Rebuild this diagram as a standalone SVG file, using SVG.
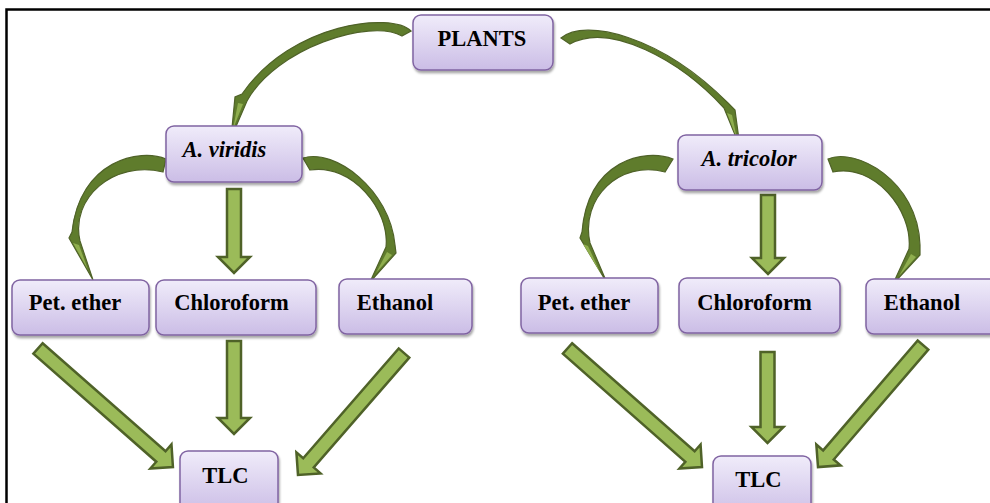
<svg xmlns="http://www.w3.org/2000/svg" width="990" height="503" viewBox="0 0 990 503">
<defs>
<linearGradient id="boxg" x1="0" y1="0" x2="0" y2="1">
<stop offset="0" stop-color="#f0ecfa"/>
<stop offset="1" stop-color="#cbbde6"/>
</linearGradient>
<filter id="sh" x="-10%" y="-10%" width="120%" height="130%">
<feDropShadow dx="1" dy="2.5" stdDeviation="1.2" flood-color="#000" flood-opacity="0.35"/>
</filter>
</defs>
<style>
.box{fill:url(#boxg);stroke:#8064a2;stroke-width:1.5;filter:url(#sh)}
.t{font-family:"Liberation Serif","Times New Roman",serif;font-weight:bold;font-size:22.5px;fill:#000;text-anchor:middle}
.it{font-style:italic}
.blk{fill:#9bbb59;stroke:#4f6228;stroke-width:2.5;stroke-linejoin:miter}
.crv{fill:#5f7c2c;stroke:#4f6228;stroke-width:1.2;stroke-linejoin:miter}
.hl{fill:#8fae4e;stroke:none}
.frame{stroke:#000;stroke-width:2.5;fill:none}
</style>
<rect width="990" height="503" fill="#fff"/>
<path class="frame" d="M6.5,503 V9.5 H990"/>

<g id="connectors">
<!-- curved arrows -->
<path class="crv" d="M402,36 L411,31 C392,12 292,22 242,94 L235,97 L231,138 L247,101 C276,48 370,18 402,36 Z"/>
<polygon class="hl" points="238,103 243,104 233,129"/>
<path class="crv" d="M166,159 C140,148 80,160 72,232 L69,238 L93,280 L80,241 C70,198 114,160 163,172 Z"/>
<polygon class="hl" points="73,243 79,245 88,270"/>
<path class="crv" d="M303,158 C335,148 390,190 395,245 L396,253 L370,282 L386,247 C390,210 352,163 310,170 Z"/>
<polygon class="hl" points="392,255 387,252 376,273"/>
<path class="crv" d="M561,38 C585,18 660,35 728,103 L735,110 L740,147 L724,108 C680,60 610,22 570,44 Z"/>
<polygon class="hl" points="732,115 727,113 737,139"/>
<path class="crv" d="M673,159 C645,148 588,160 582,232 L580,238 L607,283 L590,243 C580,198 620,160 665,172 Z"/>
<polygon class="hl" points="583,244 588,246 601,274"/>
<path class="crv" d="M828,159 C855,147 918,180 920,245 L920,255 L893,284 L909,249 C913,210 874,163 833,172 Z"/>
<polygon class="hl" points="916,257 911,254 899,276"/>
<!-- block arrows -->
<polygon class="blk" transform="translate(234,189) rotate(90)" points="0,-7 68,-7 68,-16 84,0 68,16 68,7 0,7"/>
<polygon class="blk" transform="translate(234,341) rotate(90)" points="0,-7 77,-7 77,-16 93,0 77,16 77,7 0,7"/>
<polygon class="blk" transform="translate(768,195) rotate(90)" points="0,-7 63,-7 63,-16 79,0 63,16 63,7 0,7"/>
<polygon class="blk" transform="translate(767.5,352) rotate(90)" points="0,-7 75,-7 75,-16 91,0 75,16 75,7 0,7"/>
<polygon class="blk" transform="translate(38,348.5) rotate(41.3)" points="0,-7 163.6,-7 163.6,-16 179.6,0 163.6,16 163.6,7 0,7"/>
<polygon class="blk" transform="translate(404,353) rotate(131)" points="0,-7 145.6,-7 145.6,-16 161.6,0 145.6,16 145.6,7 0,7"/>
<polygon class="blk" transform="translate(567.5,348.5) rotate(41.4)" points="0,-7 163.3,-7 163.3,-16 179.3,0 163.3,16 163.3,7 0,7"/>
<polygon class="blk" transform="translate(923,345) rotate(130.7)" points="0,-7 145,-7 145,-16 161,0 145,16 145,7 0,7"/>
</g>

<g id="plants"><rect class="box" x="413" y="15" width="140" height="55" rx="8"/><text class="t" x="482" y="46">PLANTS</text></g>
<g id="viridis"><rect class="box" x="166" y="126" width="136" height="56" rx="8"/><text class="t it" x="224.5" y="157">A. viridis</text></g>
<g id="petether1"><rect class="box" x="12" y="280" width="137" height="55" rx="8"/><text class="t" x="75" y="310">Pet. ether</text></g>
<g id="chloroform1"><rect class="box" x="156" y="280" width="160" height="55" rx="8"/><text class="t" x="231.5" y="310">Chloroform</text></g>
<g id="ethanol1"><rect class="box" x="339" y="279" width="133" height="55" rx="8"/><text class="t" x="395" y="310">Ethanol</text></g>
<g id="tlc1"><rect class="box" x="180" y="451" width="98" height="62" rx="8"/><text class="t" x="225.5" y="483">TLC</text></g>
<g id="tricolor"><rect class="box" x="678" y="135" width="144" height="55" rx="8"/><text class="t it" x="749" y="166">A. tricolor</text></g>
<g id="petether2"><rect class="box" x="521" y="278" width="137" height="55" rx="8"/><text class="t" x="584" y="310">Pet. ether</text></g>
<g id="chloroform2"><rect class="box" x="679" y="278" width="161" height="55" rx="8"/><text class="t" x="754.5" y="310">Chloroform</text></g>
<g id="ethanol2"><rect class="box" x="866" y="279" width="140" height="55" rx="8"/><text class="t" x="922" y="310">Ethanol</text></g>
<g id="tlc2"><rect class="box" x="713" y="456" width="98" height="62" rx="8"/><text class="t" x="758.5" y="487">TLC</text></g>
</svg>
